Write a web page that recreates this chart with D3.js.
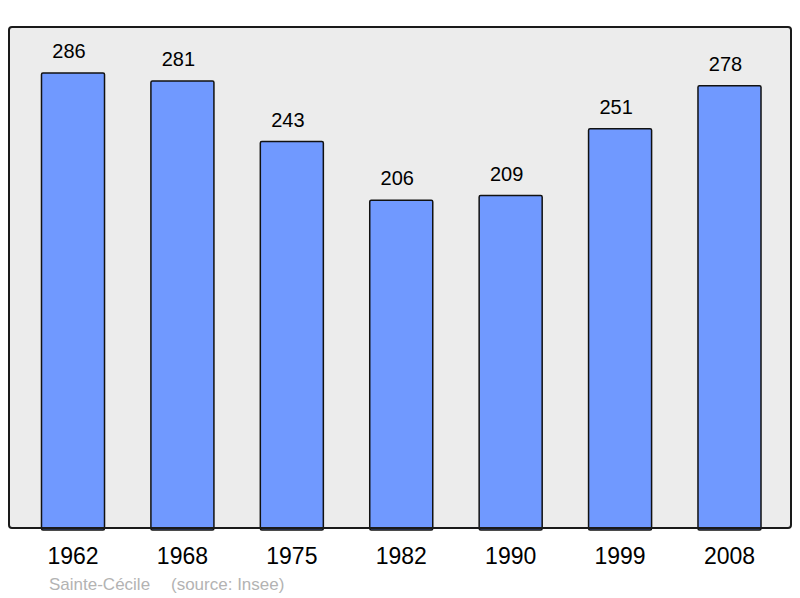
<!DOCTYPE html>
<html>
<head>
<meta charset="utf-8">
<script src="https://cdn.jsdelivr.net/npm/d3@7"></script>
<style>
  body { margin: 0; background: #fff; }
  text { font-family: "Liberation Sans", Arial, sans-serif; }
</style>
</head>
<body>
<div id="chart"></div>
<script>
// data
const YEARS = ["1962", "1968", "1975", "1982", "1990", "1999", "2008"];
const POPULATION = [286, 281, 243, 206, 209, 251, 278];
const COMMUNE = "Sainte-Cécile";
const SOURCE = "(source: Insee)";

const SVG_WIDTH = 800;
const SVG_HEIGHT = 598;
const PANEL = {left: 9, top: 27, right: 791, bottom: 528};

const svg = d3.select("#chart").append("svg")
    .attr("width", SVG_WIDTH)
    .attr("height", SVG_HEIGHT);

// background panel
svg.append("rect")
    .attr("x", PANEL.left)
    .attr("y", PANEL.top)
    .attr("width", PANEL.right - PANEL.left)
    .attr("height", PANEL.bottom - PANEL.top)
    .attr("rx", 3)
    .attr("fill", "#ececec");

const xScale = d3.scaleBand()
    .domain(YEARS)
    .range([18.3, 784.2])
    .paddingInner(0.424)
    .paddingOuter(0.212);

const yScale = d3.scaleLinear()
    .domain([0, 315])
    .range([PANEL.bottom, PANEL.top]);

const data = YEARS.map((y, i) => ({year: y, value: POPULATION[i]}));

// bars
svg.selectAll("rect.bar")
    .data(data)
    .enter()
    .append("rect")
    .classed("bar", true)
    .attr("x", d => xScale(d.year))
    .attr("y", d => yScale(d.value))
    .attr("width", xScale.bandwidth())
    .attr("height", d => PANEL.bottom - yScale(d.value) + 2)
    .attr("rx", 1.5)
    .attr("fill", "#7099ff")
    .attr("stroke", "#111")
    .attr("stroke-width", 1.5);

// panel border on top of bar bottoms
svg.append("rect")
    .attr("x", PANEL.left)
    .attr("y", PANEL.top)
    .attr("width", PANEL.right - PANEL.left)
    .attr("height", PANEL.bottom - PANEL.top)
    .attr("rx", 3)
    .attr("fill", "none")
    .attr("stroke", "#1a1a1a")
    .attr("stroke-width", 2);

// value labels (sit a little left of bar centre, as in the original)
svg.selectAll("text.value")
    .data(data)
    .enter()
    .append("text")
    .classed("value", true)
    .attr("x", d => xScale(d.year) + xScale.bandwidth() / 2 - 4)
    .attr("y", d => yScale(d.value) - 15)
    .attr("text-anchor", "middle")
    .attr("font-size", 20)
    .attr("fill", "#000")
    .text(d => d.value);

// year labels
const xAxis = d3.axisBottom(xScale).tickSize(0).tickPadding(0);
const axisG = svg.append("g")
    .attr("transform", `translate(0, ${PANEL.bottom})`)
    .call(xAxis);
axisG.select(".domain").remove();
axisG.selectAll("text")
    .attr("y", 36)
    .attr("dy", null)
    .attr("font-size", 23)
    .attr("font-family", "Liberation Sans, Arial, sans-serif")
    .attr("fill", "#000");

// footer
svg.append("text")
    .attr("x", 49)
    .attr("y", 590)
    .attr("font-size", 17)
    .attr("fill", "#b3b3b3")
    .text(COMMUNE);
svg.append("text")
    .attr("x", 171)
    .attr("y", 590)
    .attr("font-size", 17)
    .attr("fill", "#b3b3b3")
    .text(SOURCE);
</script>
</body>
</html>
